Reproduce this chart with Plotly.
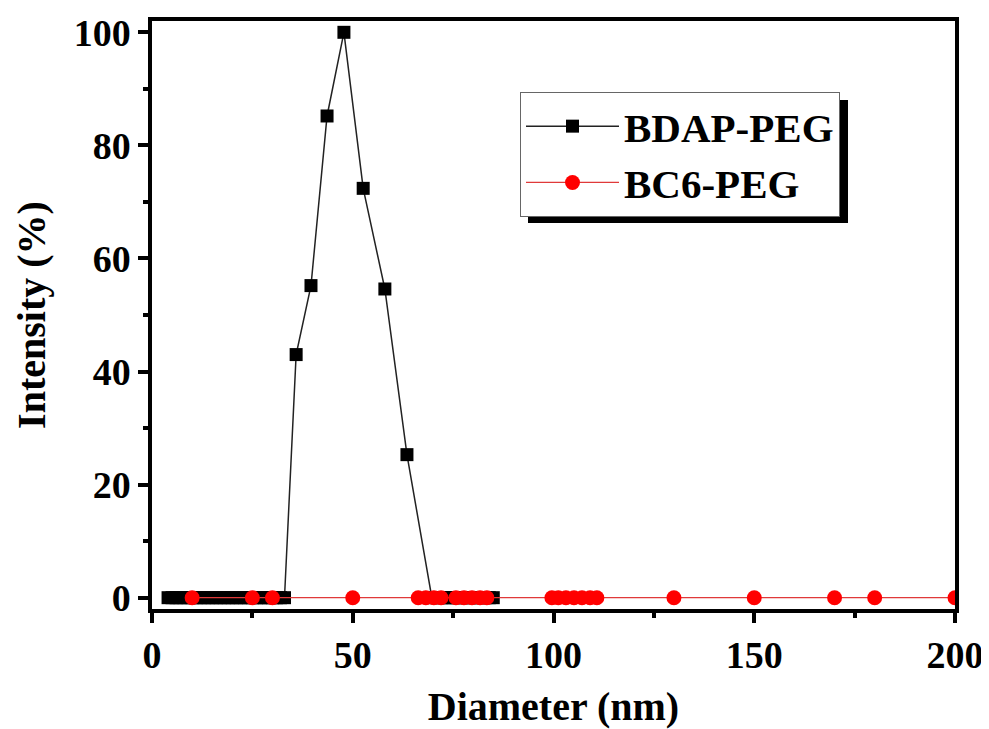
import plotly.graph_objects as go

# BDAP-PEG (black squares)
bdap_x = [4, 5, 6, 7, 8, 9, 10, 11, 12, 13, 14, 15, 16, 17, 18, 19, 20, 21, 22, 23,
          24, 25, 26, 27, 28, 29, 30, 31, 32, 33,
          35.9, 39.6, 43.6, 47.8, 52.6, 58.0, 63.5,
          69.7, 71, 72, 73, 74, 75, 76, 77, 78, 79, 80, 81, 82, 83, 84, 85]
bdap_y = [0, 0, 0, 0, 0, 0, 0, 0, 0, 0, 0, 0, 0, 0, 0, 0, 0, 0, 0, 0,
          0, 0, 0, 0, 0, 0, 0, 0, 0, 0,
          43.0, 55.2, 85.2, 100.0, 72.4, 54.6, 25.3,
          0, 0, 0, 0, 0, 0, 0, 0, 0, 0, 0, 0, 0, 0, 0, 0]

# BC6-PEG (red circles)
bc6_x = [10, 25, 30, 50, 66.3, 68.2, 70.2, 72.0, 75.7, 77.7, 79.7, 81.7, 83.4,
         99.6, 101.2, 103.1, 105.1, 107.1, 109.1, 110.8, 130, 150, 170, 180, 200]
bc6_y = [0] * len(bc6_x)

FONT = "Liberation Serif, Times New Roman, serif"

fig = go.Figure()
fig.add_trace(go.Scatter(
    x=bdap_x, y=bdap_y, mode="lines+markers", name="BDAP-PEG",
    line=dict(color="#222222", width=1.5),
    marker=dict(symbol="square", size=13, color="black"),
))
fig.add_trace(go.Scatter(
    x=bc6_x, y=bc6_y, mode="lines+markers", name="BC6-PEG",
    line=dict(color="#e03a3a", width=1.2),
    marker=dict(symbol="circle", size=15, color="#ff0000"),
))

# page offset of the figure (default body margin)
OFF = 8
W, H = 989 - OFF, 729 - OFF
# plot area in page pixels
PL, PR, PT, PB = 152, 955, 21, 609
L, T = PL - OFF, PT - OFF
R, B = W - (PR - OFF), H - (PB - OFF)
pw, ph = W - L - R, H - T - B

def px_to_paper(xp, yp):
    return (xp - PL) / pw, (PB - yp) / ph

# legend box (approx.) and its drop shadow, page pixels
LEG_L, LEG_T, LEG_W, LEG_H = 520, 92, 320, 123
SH = 8
sx0, sy0 = px_to_paper(LEG_L + SH, LEG_T + SH)
sx1, sy1 = px_to_paper(LEG_L + LEG_W + SH, LEG_T + LEG_H + SH)
fig.add_shape(type="rect", xref="paper", yref="paper", x0=sx0, x1=sx1, y0=sy1, y1=sy0,
              fillcolor="black", line=dict(width=0), layer="above")

lx, ly = px_to_paper(LEG_L, LEG_T)

fig.update_layout(
    width=W, height=H,
    margin=dict(l=L, r=R, t=T, b=B, pad=0),
    paper_bgcolor="white", plot_bgcolor="white",
    font=dict(family=FONT, color="black"),
    showlegend=True,
    legend=dict(
        x=lx, y=ly, xanchor="left", yanchor="top",
        bgcolor="white", bordercolor="#666666", borderwidth=1,
        font=dict(family=FONT, size=41, color="black", weight="bold"),
        itemwidth=93, tracegroupgap=0,
    ),
    xaxis=dict(
        range=[0, 200], tickvals=[0, 50, 100, 150, 200], automargin=False,
        ticks="outside", ticklen=10, tickwidth=4, tickcolor="black",
        minor=dict(tickvals=[25, 75, 125, 175], ticks="outside", ticklen=5, tickwidth=4, tickcolor="black"),
        showline=True, linewidth=3.5, linecolor="black", mirror=True,
        showgrid=False, zeroline=False,
        tickfont=dict(family=FONT, size=38, color="black", weight="bold"),
        title=dict(text="Diameter (nm)", font=dict(family=FONT, size=40, color="black", weight="bold"), standoff=19),
    ),
    yaxis=dict(
        range=[-2, 102], tickvals=[0, 20, 40, 60, 80, 100], automargin=False,
        ticks="outside", ticklen=10, tickwidth=4, tickcolor="black",
        minor=dict(tickvals=[10, 30, 50, 70, 90], ticks="outside", ticklen=5, tickwidth=4, tickcolor="black"),
        showline=True, linewidth=3.5, linecolor="black", mirror=True,
        showgrid=False, zeroline=False,
        tickfont=dict(family=FONT, size=38, color="black", weight="bold"),
        title=dict(text="Intensity (%)", font=dict(family=FONT, size=40, color="black", weight="bold"), standoff=17),
    ),
)

fig.write_html("out.html")
